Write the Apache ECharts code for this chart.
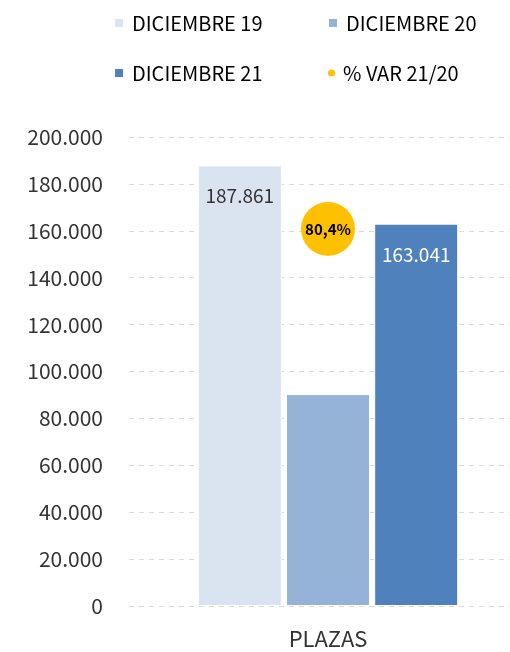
<!DOCTYPE html>
<html>
<head>
<meta charset="utf-8">
<script src="https://cdn.jsdelivr.net/npm/echarts@6/dist/echarts.min.js"></script>
<style>
html,body{margin:0;padding:0;background:#fff;}
#myChart{width:510px;height:652px;}
</style>
</head>
<body>
<div id="myChart"></div>
<script>
const categories = ['PLAZAS'];
const dic19 = [187861];
const dic20 = [90380];
const dic21 = [163041];
const varPct = [80.4];
const yTicks = [0, 20000, 40000, 60000, 80000, 100000, 120000, 140000, 160000, 180000, 200000];

const font = '"Noto Sans CJK SC", "Noto Sans", sans-serif';
const myChart = echarts.init(document.getElementById('myChart'));

// miles con punto
function fmt(v) {
    return String(Math.round(v)).replace(/\B(?=(\d{3})+(?!\d))/g, '.');
}

function legendAt(name, left, top, icon, size) {
    return {
        data: [{name: name, icon: icon}],
        left: left,
        top: top,
        itemWidth: size,
        itemHeight: size,
        itemGap: 10,
        textStyle: {fontFamily: font, fontSize: 20, color: '#000', padding: [0, 0, 0, 3]}
    };
}

const option = {
    animation: false,
    legend: [
        legendAt('DICIEMBRE 19', 108, 8, 'rect', 10),
        legendAt('DICIEMBRE 20', 322, 8, 'rect', 10),
        legendAt('DICIEMBRE 21', 108, 58, 'rect', 10),
        legendAt('% VAR 21/20', 323, 58, 'circle', 7)
    ],
    grid: {left: 129, width: 398, top: 137, bottom: 46, outerBoundsMode: 'none', containLabel: false},
    xAxis: {
        type: 'category',
        data: categories,
        axisLine: {show: false},
        axisTick: {show: false},
        axisLabel: {fontFamily: font, fontSize: 22, color: '#333', margin: 22}
    },
    yAxis: [{
        type: 'value',
        min: yTicks[0],
        max: yTicks[yTicks.length - 1],
        interval: yTicks[1] - yTicks[0],
        axisLine: {show: false},
        axisTick: {show: false},
        splitLine: {lineStyle: {type: [5, 5], color: '#d9d9d9'}},
        axisLabel: {fontFamily: font, fontSize: 21, color: '#333', margin: 26, formatter: fmt}
    }, {
        type: 'value',
        min: 0,
        max: 100,
        show: false,
        splitLine: {show: false}
    }],
    series: [
        {
            name: 'DICIEMBRE 19',
            type: 'bar',
            data: dic19,
            barWidth: 84,
            barGap: '5%',
            itemStyle: {color: '#dae3f0', borderColor: '#fff', borderWidth: 1},
            label: {show: true, position: 'insideTop', distance: 21, fontFamily: font, fontSize: 19, color: '#333', formatter: p => fmt(p.value)}
        },
        {
            name: 'DICIEMBRE 20',
            type: 'bar',
            data: dic20,
            barWidth: 84,
            barGap: '5%',
            itemStyle: {color: '#95b3d7', borderColor: '#fff', borderWidth: 1}
        },
        {
            name: 'DICIEMBRE 21',
            type: 'bar',
            data: dic21,
            barWidth: 84,
            barGap: '5%',
            itemStyle: {color: '#4f81bd', borderColor: '#fff', borderWidth: 1},
            label: {show: true, position: 'insideTop', distance: 22, fontFamily: font, fontSize: 19, color: '#fff', formatter: p => fmt(p.value)}
        },
        {
            name: '% VAR 21/20',
            type: 'scatter',
            yAxisIndex: 1,
            data: varPct,
            symbolSize: 54,
            itemStyle: {color: '#ffc000', opacity: 1},
            label: {show: true, position: 'inside', fontFamily: font, fontSize: 15, fontWeight: 'bold', color: '#000',
                formatter: p => p.value.toFixed(1).replace('.', ',') + '%'}
        }
    ]
};
myChart.setOption(option);
window.addEventListener('resize', myChart.resize);
</script>
</body>
</html>
